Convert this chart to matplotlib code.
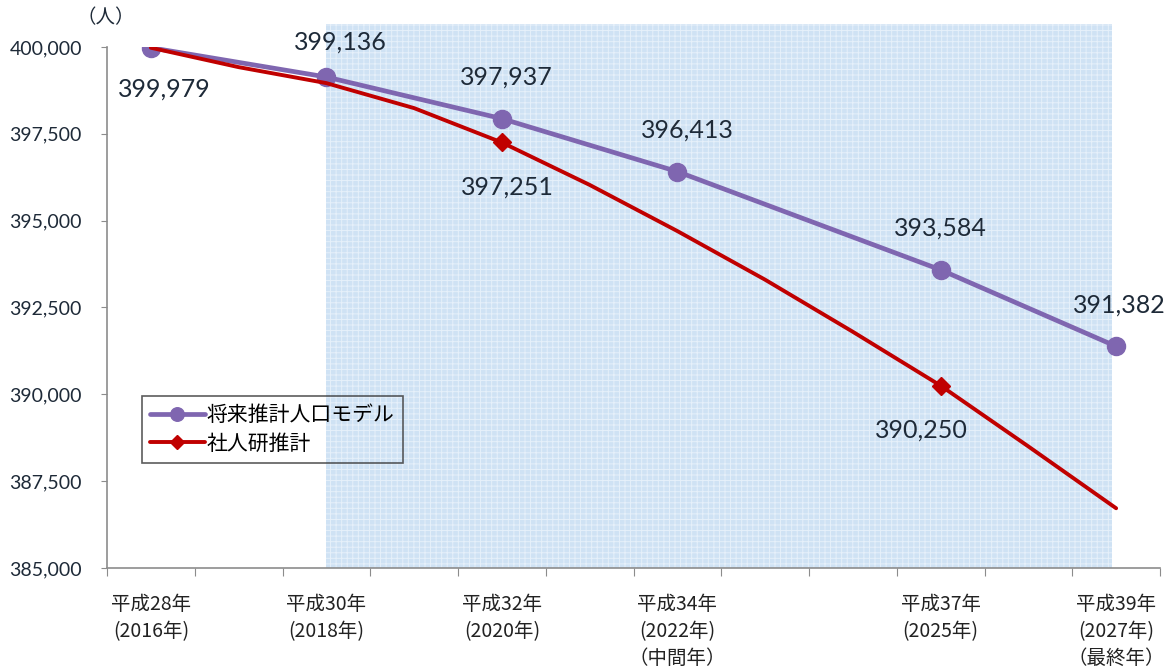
#!/usr/bin/env python3
"""Population projection: 将来推計人口モデル vs 社人研推計, 2016-2027."""

import matplotlib

matplotlib.use("Agg")
import matplotlib.pyplot as plt
from matplotlib.patches import Rectangle
from matplotlib.ticker import FuncFormatter, FixedLocator

plt.rcParams["font.family"] = ["Noto Sans CJK JP", "DejaVu Sans"]
plt.rcParams["hatch.linewidth"] = 0.7

# --- data -------------------------------------------------------------------
years = list(range(2016, 2028))
label_years = [2016, 2018, 2020, 2022, 2025, 2027]
x_labels = [
    "平成28年\n(2016年)",
    "平成30年\n(2018年)",
    "平成32年\n(2020年)",
    "平成34年\n(2022年)\n（中間年）",
    "平成37年\n(2025年)",
    "平成39年\n(2027年)\n（最終年）",
]

model_years = [2016, 2018, 2020, 2022, 2025, 2027]
model_pop = [399979, 399136, 397937, 396413, 393584, 391382]

ipss_pop = [399979, 399420, 398960, 398240, 397251, 396030,
            394700, 393300, 391800, 390250, 388500, 386720]
ipss_marked = [2020, 2025]

# --- drawing -----------------------------------------------------------------
PURPLE = "#7f66b0"
RED = "#c00000"
AXIS = "#8c8c8c"
TXT = "#1e2a38"
NUM_FONT = ["Lato", "DejaVu Sans"]


def xi(year):
    return years.index(year)


fig = plt.figure(figsize=(11.65, 6.71), dpi=100)
ax = fig.add_axes([107 / 1165, 1 - 568 / 671, (1160 - 107) / 1165, (568 - 47) / 671])

ax.set_xlim(-0.5, len(years) - 0.5)
ax.set_ylim(385000, 400000)

# shaded projection period
shade = Rectangle((xi(2018), 385000), 10.95 - xi(2018), 400662 - 385000,
                  facecolor="#cfe2f4", edgecolor="#e6f0fa", hatch="+++",
                  linewidth=0, zorder=0, clip_on=False)
ax.add_patch(shade)

mx = [xi(y) for y in model_years]
ax.plot(mx, model_pop, color=PURPLE, lw=3.4, marker="o", ms=13,
        solid_capstyle="round", zorder=3, label="将来推計人口モデル")
rx = list(range(len(years)))
ax.plot(rx, ipss_pop, color=RED, lw=2.8, marker="D", ms=9,
        markevery=[xi(y) for y in ipss_marked], solid_capstyle="round",
        zorder=4, label="社人研推計")

# data labels (model above, ipss below)
m_off = [(10, -30), (10, 25), (3, 30), (7, 30), (0, 30), (2, 30)]
for x, v, (dx, dy) in zip(mx, model_pop, m_off):
    ax.annotate(f"{v:,}", (x, v), xytext=(dx, dy), textcoords="offset points",
                ha="center", va="center", fontsize=18, color=TXT, family=NUM_FONT)
r_off = [(4, -32), (-14, -32)]
for y, (dx, dy) in zip(ipss_marked, r_off):
    v = ipss_pop[xi(y)]
    ax.annotate(f"{v:,}", (xi(y), v), xytext=(dx, dy), textcoords="offset points",
                ha="center", va="center", fontsize=18, color=TXT, family=NUM_FONT)

# axes styling
for s in ("top", "right"):
    ax.spines[s].set_visible(False)
for s in ("left", "bottom"):
    ax.spines[s].set_color(AXIS)
    ax.spines[s].set_linewidth(1.2)

ax.yaxis.set_major_locator(FixedLocator(list(range(385000, 400001, 2500))))
ax.yaxis.set_major_formatter(FuncFormatter(lambda v, _: f"{int(v):,}"))
ax.tick_params(axis="y", direction="out", length=4, color=AXIS, labelsize=14,
               labelcolor=TXT, pad=14)
for t in ax.get_yticklabels():
    t.set_family(NUM_FONT)

ax.xaxis.set_major_locator(FixedLocator([i - 0.5 for i in range(len(years) + 1)]))
ax.xaxis.set_major_formatter(FuncFormatter(lambda v, _: ""))
ax.tick_params(axis="x", which="major", direction="out", length=6, color=AXIS)
ax.xaxis.set_minor_locator(FixedLocator([xi(y) for y in label_years]))
ax.set_xticklabels(x_labels, minor=True)
ax.tick_params(axis="x", which="minor", length=0, labelsize=14, labelcolor="#222222", pad=19)
for t in ax.get_xticklabels(minor=True):
    t.set_verticalalignment("top")
    t.set_linespacing(1.35)

fig.text(106 / 1165, 1 - 18 / 671, "（人）", fontsize=14, color=TXT,
         ha="center", va="center")

leg = ax.legend(loc="upper left", bbox_to_anchor=(35 / 1053, (568 - 396) / 521),
                fontsize=15, frameon=True, fancybox=False, handlelength=2.6,
                handletextpad=0.1, borderpad=0.4, labelspacing=0.3,
                markerscale=0.75, borderaxespad=0)
leg.get_frame().set_edgecolor("#333333")
leg.get_frame().set_linewidth(1.2)
leg.get_frame().set_facecolor("none")

fig.savefig("out.png", dpi=100)
